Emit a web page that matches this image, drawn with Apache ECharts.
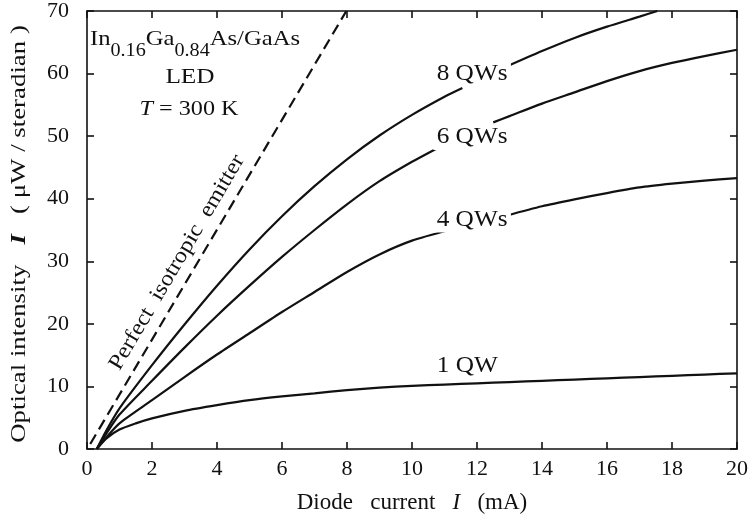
<!DOCTYPE html>
<html><head><meta charset="utf-8">
<script src="https://cdn.jsdelivr.net/npm/echarts@6/dist/echarts.min.js"></script>
<style>html,body{margin:0;padding:0;background:#fff}#c{width:754px;height:520px}</style>
</head><body><div id="c"></div>
<script>
// ---- data ----
const xTicks = [0, 2, 4, 6, 8, 10, 12, 14, 16, 18, 20];
const yTicks = [0, 10, 20, 30, 40, 50, 60, 70];
const perfectEmitter = [[0.1, 0.8], [7.98, 70]];
const qw8 = [[0.3,0],[0.6,3.0],[1,6.5],[2,13.4],[3,19.9],[4,26.1],[5,31.9],[6,37.2],[7,42.0],[8,46.3],[9,50.1],[10,53.4],[11,56.3],[11.55,57.7],[12.2,null],[12.9,61.1],[14,63.6],[15,65.7],[16,67.5],[17,69.1],[17.55,70]];
const qw6 = [[0.3,0],[0.6,2.5],[1,5.5],[2,10.9],[3,16.2],[4,21.3],[5,26.1],[6,30.7],[7,35.0],[8,39.1],[9,42.8],[10,45.9],[10.75,48.0],[11.6,null],[12.5,52.2],[13,53.2],[14,55.2],[15,57.0],[16,58.8],[17,60.4],[18,61.7],[19,62.8],[20,63.8]];
const qw4 = [[0.3,0],[0.6,1.9],[1,4.1],[2,7.8],[3,11.5],[4,15.1],[5,18.5],[6,21.9],[7,25.1],[8,28.3],[9,31.1],[10,33.3],[11.15,35.0],[12,null],[12.9,37.3],[14,38.8],[15,39.9],[16,40.9],[17,41.8],[18,42.4],[19,42.9],[20,43.3]];
const qw1 = [[0.3,0],[0.6,1.7],[1,3.1],[1.5,4.1],[2,4.9],[3,6.1],[4,7.0],[5,7.8],[6,8.4],[7,8.9],[8,9.4],[9,9.8],[10,10.1],[11,10.3],[12,10.5],[13,10.7],[14,10.9],[15,11.1],[16,11.3],[17,11.5],[18,11.7],[19,11.9],[20,12.1]];
const seriesNames = ['8 QWs', '6 QWs', '4 QWs', '1 QW'];
const seriesData = [qw8, qw6, qw4, qw1];

// ---- label anchors (data coordinates) ----
const curveLabelAt = [[11.85, 59.9], [11.85, 49.8], [11.85, 36.6], [11.7, 13.2]];
const emitterLabelAt = [2.77, 29.8];

const FONT = '"Liberation Serif", "Times New Roman", serif';
const INK = '#111';

const chart = echarts.init(document.getElementById('c'), null, {renderer: 'canvas'});

function axisBase(pos, ticks, showLabel) {
  return {
    type: 'value', position: pos,
    min: ticks[0], max: ticks[ticks.length - 1], interval: ticks[1] - ticks[0],
    splitLine: {show: false},
    axisLine: {show: true, onZero: false, lineStyle: {color: INK, width: 1.6}},
    axisTick: {show: true, inside: true, length: 7, lineStyle: {color: INK, width: 1.6}},
    axisLabel: {show: showLabel, color: INK, fontFamily: FONT, fontSize: 22}
  };
}

const xMain = axisBase('bottom', xTicks, true);
xMain.axisLabel.margin = 9;
xMain.name = 'Diode   current   {i|I}   (mA)';
xMain.nameLocation = 'middle';
xMain.nameGap = 42;
xMain.nameTextStyle = {color: INK, fontFamily: FONT, fontSize: 23,
  rich: {i: {fontStyle: 'italic', fontFamily: FONT, fontSize: 23, color: INK}}};
const xTop = axisBase('top', xTicks, false);
const yMain = axisBase('left', yTicks, true);
yMain.axisLabel.margin = 18;
const yRight = axisBase('right', yTicks, false);

const series = seriesData.map((d, k) => ({
  name: seriesNames[k], type: 'line', data: d, xAxisIndex: 0, yAxisIndex: 0,
  showSymbol: false, symbol: 'none', smooth: 0.25, connectNulls: false,
  lineStyle: {color: INK, width: 2.2}, silent: true, clip: true
}));
series.push({
  name: 'Perfect isotropic emitter', type: 'line', data: perfectEmitter,
  showSymbol: false, symbol: 'none', lineStyle: {color: INK, width: 2.2, type: [11, 6]}, silent: true
});

chart.setOption({
  animation: false,
  backgroundColor: '#fff',
  grid: {left: 87, right: 17, top: 8, bottom: 71, containLabel: false},
  xAxis: [xMain, xTop],
  yAxis: [yMain, yRight],
  series: series
});

// ---- annotations ----
const graphics = [];
seriesNames.forEach((nm, k) => {
  const p = chart.convertToPixel({gridIndex: 0}, curveLabelAt[k]);
  graphics.push({type: 'text', x: p[0], y: p[1], z: 10, scaleX: 1.1,
    style: {text: nm, font: '23px ' + FONT, fill: INK, align: 'center', verticalAlign: 'middle',
      backgroundColor: '#fff', padding: [1, 3]}});
});
const a = chart.convertToPixel({gridIndex: 0}, perfectEmitter[0]);
const b = chart.convertToPixel({gridIndex: 0}, perfectEmitter[1]);
const ang = Math.atan2(a[1] - b[1], b[0] - a[0]);
const ep = chart.convertToPixel({gridIndex: 0}, emitterLabelAt);
graphics.push({type: 'text', x: ep[0], y: ep[1], rotation: ang, scaleX: 1.1,
  style: {text: 'Perfect  isotropic  emitter', font: '22px ' + FONT, fill: INK, align: 'center', verticalAlign: 'middle'}});

graphics.push({type: 'text', x: 195, y: 41, scaleX: 1.12,
  style: {text: '{m|In}{s|0.16}{m|Ga}{s|0.84}{m|As/GaAs}', align: 'center', verticalAlign: 'middle', fill: INK,
    rich: {m: {font: '22px ' + FONT, fill: INK, lineHeight: 26, verticalAlign: 'top'},
           s: {font: '18px ' + FONT, fill: INK, lineHeight: 18, padding: [14, 0, 0, 0], verticalAlign: 'top'}}}});
graphics.push({type: 'text', x: 190, y: 77, scaleX: 1.15,
  style: {text: 'LED', font: '22px ' + FONT, fill: INK, align: 'center', verticalAlign: 'middle'}});
graphics.push({type: 'text', x: 189, y: 109, scaleX: 1.1,
  style: {text: '{i|T} = 300 K', font: '22px ' + FONT, fill: INK, align: 'center', verticalAlign: 'middle',
    rich: {i: {font: 'italic 22px ' + FONT, fill: INK}}}});
graphics.push({type: 'text', x: 19, y: 234, rotation: Math.PI / 2, scaleX: 1.22,
  style: {text: 'Optical intensity   {i|I}   ( μW / steradian )', font: '22px ' + FONT, fill: INK,
    align: 'center', verticalAlign: 'middle',
    rich: {i: {font: 'italic bold 22px ' + FONT, fill: INK}}}});

chart.setOption({graphic: graphics});
</script></body></html>
